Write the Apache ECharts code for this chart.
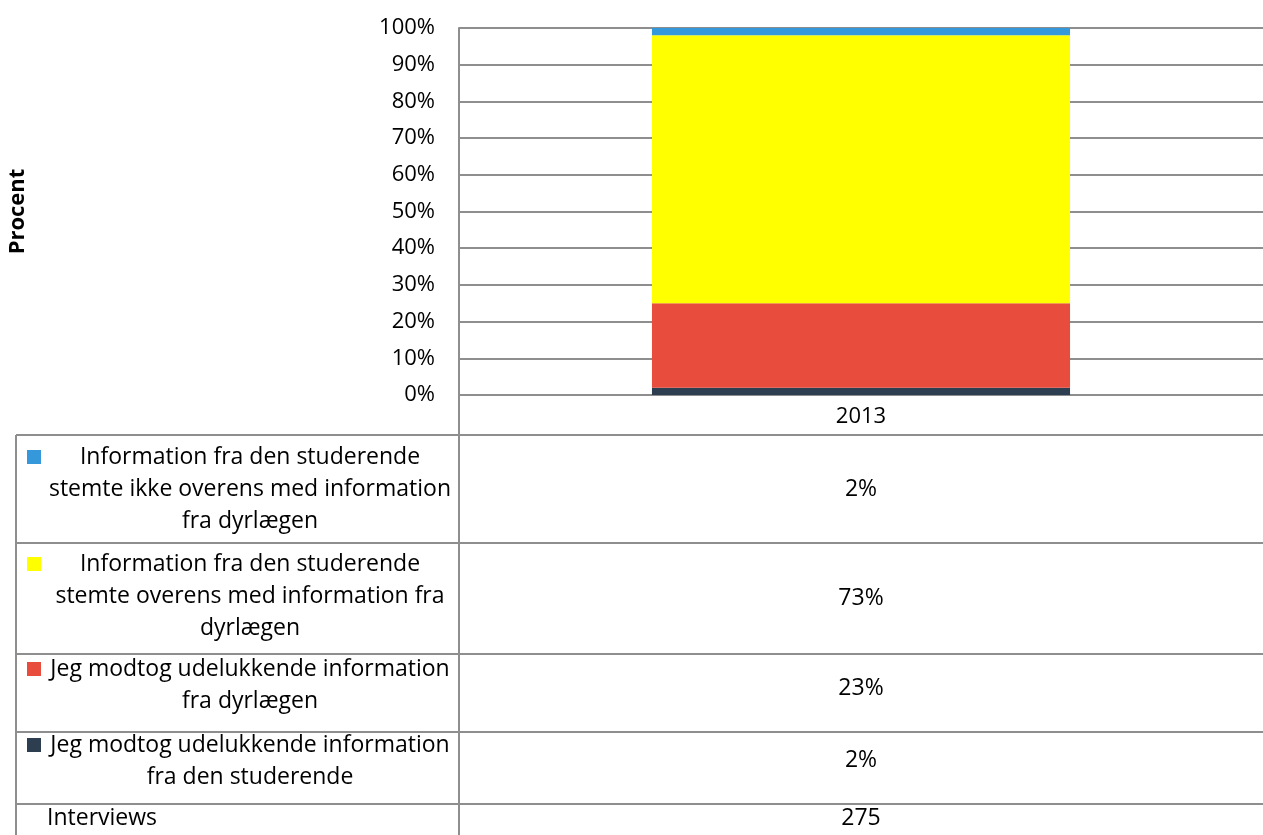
<!DOCTYPE html>
<html>
<head>
<meta charset="utf-8">
<script src="https://cdn.jsdelivr.net/npm/echarts@6/dist/echarts.min.js"></script>
<style>
  html, body { margin: 0; padding: 0; background: #fff; }
  #chart { width: 1263px; height: 835px; }
</style>
</head>
<body>
<div id="chart"></div>
<script>
// data, in stacking order (bottom -> top)
var categories = ["2013"];
var seriesNames = [
  "Jeg modtog udelukkende information fra den studerende",
  "Jeg modtog udelukkende information fra dyrlægen",
  "Information fra den studerende stemte overens med information fra dyrlægen",
  "Information fra den studerende stemte ikke overens med information fra dyrlægen"
];
// how the labels wrap in the data table
var tableLabels = [
  "Jeg modtog udelukkende information\nfra den studerende",
  "Jeg modtog udelukkende information\nfra dyrlægen",
  "Information fra den studerende\nstemte overens med information fra\ndyrlægen",
  "Information fra den studerende\nstemte ikke overens med information\nfra dyrlægen"
];
var seriesValues = [2, 23, 73, 2];
var seriesColors = ["#2c3e50", "#e74c3c", "#ffff00", "#3498db"];
var interviewsLabel = "Interviews";
var interviewsValue = 275;
var yTicks = [0, 100, 10]; // min, max, interval

var FONT = "'Open Sans', sans-serif";
var FS = 23;
var LINE = "#8e8e8e";

var chart = echarts.init(document.getElementById("chart"));

var series = seriesNames.map(function (name, i) {
  return {
    name: name,
    type: "bar",
    stack: "total",
    barWidth: "52%",
    itemStyle: { color: seriesColors[i] },
    data: [seriesValues[i]]
  };
});

// data table below the plot (rows top -> bottom = reverse stack order)
var rowTops = [435, 543, 654, 732, 804];
var rowTextY = [489, 596, 685, 761, 818];
var rowValY = [489, 598, 688, 760, 818];
var lineH = 32;
var graphics = [];

rowTops.forEach(function (y) {
  graphics.push({
    type: "line", z: 10,
    shape: { x1: 16, y1: y, x2: 1263, y2: y },
    style: { stroke: LINE, lineWidth: 2 }
  });
});
graphics.push({
  type: "line", z: 10,
  shape: { x1: 16, y1: 435, x2: 16, y2: 835 },
  style: { stroke: LINE, lineWidth: 2 }
});
graphics.push({
  type: "line", z: 10,
  shape: { x1: 459, y1: 395, x2: 459, y2: 835 },
  style: { stroke: LINE, lineWidth: 2 }
});

for (var r = 0; r < 4; r++) {
  var si = 3 - r;
  var nLines = tableLabels[si].split("\n").length;
  var firstLineY = rowTextY[r] - (nLines - 1) * lineH / 2;
  graphics.push({
    type: "rect", z: 10,
    shape: { x: 27, y: firstLineY - 7, width: 14, height: 14 },
    style: { fill: seriesColors[si] }
  });
  graphics.push({
    type: "text", z: 10, x: 250, y: rowTextY[r],
    style: {
      text: tableLabels[si], fill: "#000", font: FS + "px " + FONT,
      align: "center", verticalAlign: "middle", lineHeight: lineH
    }
  });
  graphics.push({
    type: "text", z: 10, x: 861, y: rowValY[r],
    style: {
      text: seriesValues[si] + "%", fill: "#000", font: FS + "px " + FONT,
      align: "center", verticalAlign: "middle"
    }
  });
}
graphics.push({
  type: "text", z: 10, x: 47, y: rowTextY[4],
  style: { text: interviewsLabel, fill: "#000", font: FS + "px " + FONT, align: "left", verticalAlign: "middle" }
});
graphics.push({
  type: "text", z: 10, x: 861, y: rowValY[4],
  style: { text: String(interviewsValue), fill: "#000", font: FS + "px " + FONT, align: "center", verticalAlign: "middle" }
});

chart.setOption({
  animation: false,
  textStyle: { fontFamily: FONT },
  grid: { left: 459, right: 0, top: 28, bottom: 440, containLabel: false, outerBoundsMode: "none" },
  xAxis: {
    type: "category",
    data: categories,
    axisLine: { lineStyle: { color: LINE, width: 2 } },
    axisTick: { show: false },
    axisLabel: { color: "#000", fontSize: 22, margin: 11 }
  },
  yAxis: {
    type: "value",
    min: yTicks[0], max: yTicks[1], interval: yTicks[2],
    name: "Procent",
    nameLocation: "middle",
    nameRotate: 90,
    nameGap: 430,
    nameTextStyle: { color: "#000", fontSize: 22, fontWeight: "bold" },
    axisLine: { show: true, lineStyle: { color: LINE, width: 2 } },
    axisTick: { show: false },
    axisLabel: { color: "#000", fontSize: 22, margin: 24, formatter: "{value}%" },
    splitLine: { lineStyle: { color: LINE, width: 2 } }
  },
  series: series,
  graphic: graphics
});
</script>
</body>
</html>
